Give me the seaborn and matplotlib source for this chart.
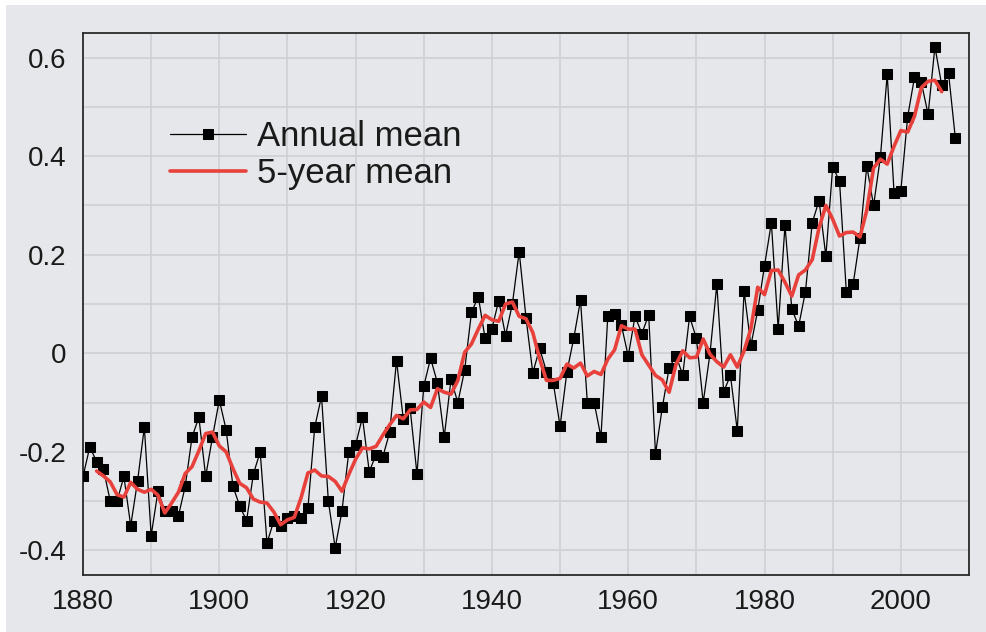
import numpy as np
import pandas as pd
import seaborn as sns
import matplotlib.pyplot as plt
from matplotlib.patches import Rectangle
from matplotlib.ticker import MultipleLocator

# annual global temperature anomaly (deg C)
years = list(range(1880, 2009))
annual = [
    -0.25, -0.19, -0.22, -0.235, -0.30, -0.30, -0.25, -0.35, -0.26, -0.15,
    -0.37, -0.28, -0.32, -0.32, -0.33, -0.27, -0.17, -0.13, -0.25, -0.17,
    -0.095, -0.155, -0.27, -0.31, -0.34, -0.245, -0.20, -0.385, -0.34, -0.35,
    -0.335, -0.33, -0.335, -0.315, -0.15, -0.087, -0.30, -0.395, -0.32, -0.20,
    -0.186, -0.13, -0.24, -0.206, -0.21, -0.16, -0.015, -0.134, -0.112, -0.245,
    -0.067, -0.01, -0.06, -0.17, -0.053, -0.10, -0.034, 0.083, 0.115, 0.03,
    0.05, 0.107, 0.036, 0.10, 0.206, 0.072, -0.04, 0.01, -0.037, -0.06,
    -0.148, -0.038, 0.03, 0.108, -0.10, -0.10, -0.17, 0.075, 0.08, 0.057,
    -0.006, 0.075, 0.04, 0.078, -0.204, -0.11, -0.03, -0.005, -0.044, 0.075,
    0.03, -0.10, 0.0, 0.14, -0.078, -0.045, -0.157, 0.126, 0.016, 0.087,
    0.178, 0.265, 0.05, 0.26, 0.09, 0.055, 0.125, 0.265, 0.31, 0.197,
    0.378, 0.35, 0.125, 0.14, 0.234, 0.38, 0.30, 0.398, 0.566, 0.326,
    0.33, 0.48, 0.56, 0.55, 0.485, 0.622, 0.544, 0.568, 0.436,
]

# 5-year running mean, 1882-2006
years_5yr = list(range(1882, 2007))
mean_5yr = [
    -0.239, -0.249, -0.261, -0.287, -0.292, -0.262, -0.276, -0.282,
    -0.276, -0.288, -0.324, -0.304, -0.282, -0.244, -0.230, -0.198, -0.163, -0.160,
    -0.188, -0.200, -0.234, -0.264, -0.273, -0.296, -0.302, -0.304, -0.322, -0.348,
    -0.338, -0.333, -0.293, -0.243, -0.237, -0.249, -0.250, -0.260, -0.280, -0.246,
    -0.215, -0.192, -0.194, -0.189, -0.166, -0.145, -0.126, -0.133, -0.115, -0.114,
    -0.099, -0.110, -0.072, -0.079, -0.083, -0.055, 0.002, 0.019, 0.049, 0.077,
    0.068, 0.065, 0.100, 0.104, 0.075, 0.070, 0.042, -0.011, -0.055, -0.055,
    -0.051, -0.022, -0.030, -0.020, -0.046, -0.037, -0.043, -0.012, 0.007, 0.056,
    0.049, 0.049, -0.003, -0.024, -0.045, -0.054, -0.079, -0.023, 0.005, -0.009,
    -0.008, 0.029, -0.002, -0.017, -0.028, -0.003, -0.028, 0.005, 0.050, 0.134,
    0.119, 0.168, 0.169, 0.144, 0.116, 0.159, 0.169, 0.190, 0.255, 0.300,
    0.272, 0.238, 0.245, 0.246, 0.236, 0.290, 0.376, 0.394, 0.384, 0.420,
    0.452, 0.449, 0.481, 0.539, 0.552, 0.554, 0.531,
]

xtick_values = [1880, 1900, 1920, 1940, 1960, 1980, 2000]
ytick_values = [-0.4, -0.2, 0, 0.2, 0.4, 0.6]
ytick_labels = ['-0.4', '-0.2', '0', '0.2', '0.4', '0.6']

bg = '#e6e7ea'
grid_col = '#cdced2'
red = '#e8413c'

sns.set_theme(style='whitegrid')
plt.rcParams['font.family'] = ['Liberation Sans', 'DejaVu Sans']
plt.rcParams['axes.unicode_minus'] = False

df_annual = pd.DataFrame({'year': years, 'anomaly': annual})
df_5yr = pd.DataFrame({'year': years_5yr, 'anomaly': mean_5yr})

fig = plt.figure(figsize=(9.86, 6.32), dpi=100)
fig.patch.set_facecolor('white')
fig.patches.append(Rectangle((6 / 986, 0), 1, 1 - 5 / 632, transform=fig.transFigure,
                             facecolor=bg, edgecolor='none', zorder=-10))
ax = fig.add_axes([83 / 986, 1 - 575 / 632, (969 - 83) / 986, (575 - 33) / 632])
ax.set_facecolor(bg)

sns.lineplot(data=df_annual, x='year', y='anomaly', ax=ax, color='black', lw=0.9,
             marker='s', markersize=7.5, markeredgecolor='black', markerfacecolor='black',
             label='Annual mean', zorder=3)
sns.lineplot(data=df_5yr, x='year', y='anomaly', ax=ax, color=red, lw=2.6,
             label='5-year mean', zorder=4)

ax.set_xlim(1880, 2010)
ax.set_ylim(-0.45, 0.65)
ax.set_xticks(xtick_values)
ax.set_yticks(ytick_values)
ax.set_yticklabels(ytick_labels)
ax.xaxis.set_minor_locator(MultipleLocator(10))
ax.yaxis.set_minor_locator(MultipleLocator(0.1))
ax.grid(True, which='both', color=grid_col, lw=1.1)
ax.set_axisbelow(True)
ax.tick_params(which='both', length=0)
ax.tick_params(axis='x', labelsize=20, pad=10, colors='#1a1a1a')
ax.tick_params(axis='y', labelsize=20, pad=12, colors='#1a1a1a')
ax.set_xlabel('')
ax.set_ylabel('')
for s in ax.spines.values():
    s.set_visible(True)
    s.set_color('#2a2a2a')
    s.set_linewidth(1.3)

leg = ax.legend(loc='upper left', bbox_to_anchor=(0.098, 0.84), frameon=False,
                prop={'size': 25},
                handlelength=2.2, handletextpad=0.3, labelspacing=0.13,
                borderaxespad=0, borderpad=0)
for t in leg.get_texts():
    t.set_color('#1a1a1a')

fig.savefig('out.png', dpi=100, facecolor=fig.get_facecolor())
